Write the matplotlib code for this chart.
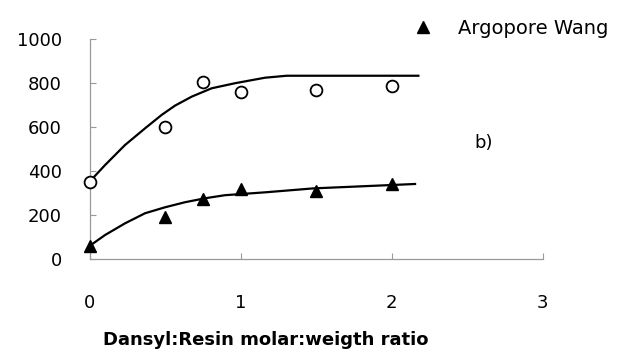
import numpy as np
import matplotlib.pyplot as plt

x_pts = [0, 0.5, 0.75, 1, 1.5, 2]
y_circ = [349, 599, 806, 761, 770, 786]
y_tri = [59, 192, 271, 318, 311, 340]

# hand-drawn trend lines
x_fit = [0, 0.103, 0.235, 0.368, 0.478, 0.566, 0.677, 0.809, 0.964, 1.162, 1.306, 2.178]
y_fit_circ = [351, 427, 518, 594, 655, 697, 738, 776, 799, 824, 833, 833]
x_fit2 = [0, 0.103, 0.235, 0.368, 0.5, 0.632, 0.765, 0.897, 1.162, 1.483, 1.991, 2.156]
y_fit_tri = [59, 109, 162, 208, 235, 258, 276, 290, 303, 321, 336, 341]

xticks = [0, 1, 2, 3]
yticks = [0, 200, 400, 600, 800, 1000]

plt.rcParams['font.family'] = 'DejaVu Sans'

fig = plt.figure(figsize=(6.34, 3.56), dpi=100)
ax = fig.add_axes([89.5/634, 1-259/356, 453/634, 220/356])

ax.plot(x_fit, y_fit_circ, color='black', lw=1.6, clip_on=False)
ax.plot(x_fit2, y_fit_tri, color='black', lw=1.6, clip_on=False)
ax.plot(x_pts, y_circ, 'o', mfc='white', mec='black', mew=1.3, ms=8.5, clip_on=False, zorder=3)
tri, = ax.plot(x_pts, y_tri, '^', color='black', ms=9, clip_on=False, zorder=3)

ax.set_xlim(0, 3)
ax.set_ylim(0, 1000)
ax.set_xticks(xticks)
ax.set_yticks(yticks)
for s in ['top', 'right']:
    ax.spines[s].set_visible(False)
for s in ['left', 'bottom']:
    ax.spines[s].set_color('#999999')
    ax.spines[s].set_linewidth(0.9)
ax.tick_params(axis='both', direction='in', length=4, color='#999999', labelsize=13)
ax.tick_params(axis='x', pad=25)
ax.tick_params(axis='y', pad=20)

ax.text(2.55, 527, 'b)', fontsize=13, va='center', ha='left')

fig.text(103/634, 1-340/356, 'Dansyl:Resin molar:weigth ratio', fontsize=13,
         fontweight='bold', ha='left', va='center')

fig.legend([tri], ['Argopore Wang'], loc='center left', bbox_to_anchor=(402/634, 1-28/356),
           frameon=False, fontsize=14, handlelength=1.2, handletextpad=1.2, borderpad=0)

fig.savefig('out.png', dpi=100)
